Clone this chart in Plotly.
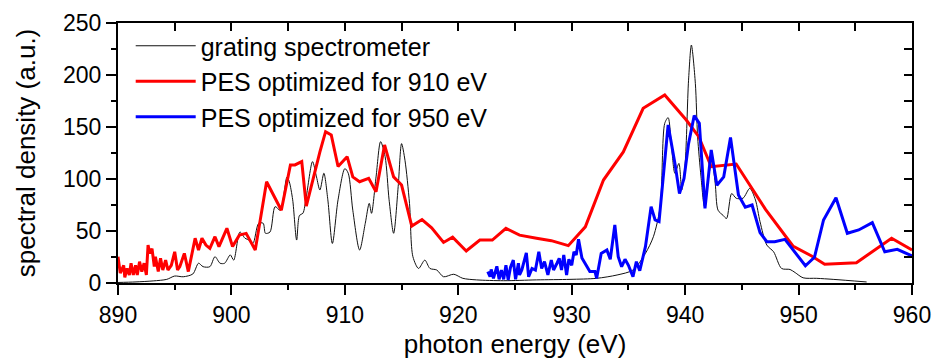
import plotly.graph_objects as go

# Grating spectrometer reference spectrum (thin black)
grating_e = [890.0, 891.5, 893.1, 894.3, 895.0, 895.75, 896.6, 897.1, 897.5, 898.1, 898.55,
             899.0, 899.4, 899.9, 900.2, 900.75, 901.2, 901.6, 901.9, 902.4, 902.8, 903.0,
             903.4, 903.85, 904.3, 904.9, 905.1, 905.4, 905.75, 906.0, 906.3, 906.6, 907.15,
             907.5, 907.8, 908.15, 908.5, 908.9, 909.4, 910.0, 910.3, 910.7, 911.3, 911.8,
             912.15, 912.35, 912.75, 913.15, 913.55, 913.9, 914.3, 914.7, 915.0, 915.3, 915.7,
             916.0, 916.5, 917.05, 917.5, 918.1, 918.7, 919.6, 920.4, 921.6, 924.0, 926.9,
             929.85, 932.2, 934.0, 935.4, 936.5, 937.2, 937.8, 938.2, 938.5, 938.8, 939.1,
             939.45, 939.7, 940.0, 940.3, 940.55, 940.9, 941.1, 941.4, 941.7, 942.0, 942.35,
             942.65, 942.9, 943.35, 943.65, 944.1, 944.5, 945.1, 945.7, 946.2, 946.6, 947.2,
             947.8, 948.5, 949.25, 949.7, 950.4, 951.6, 953.05, 956.0]
grating_val = [0.5, 1, 2, 3.5, 6.7, 6, 8.7, 19, 15.7, 15.7, 25.3,
               19, 19, 27, 22, 49, 43, 41, 38, 57.4, 57.4, 47.8,
               49, 73.4, 70, 102, 97.4, 80, 41.3, 65, 67, 83, 116.7,
               102, 89.4, 105.5, 80, 38, 80, 110, 105.5, 70, 31.7, 57.4,
               76.6, 67, 102, 135.9, 121.5, 80, 47.8, 92.6, 134, 118, 76.6,
               25.3, 14, 22, 14, 12.5, 6, 8.4, 4.5, 3, 2.2, 3,
               3.5, 4.5, 7.7, 12.5, 28.5, 44.5, 73.4, 153.5, 159, 131, 105.5,
               115, 89.4, 115, 195, 228.8, 192, 140.7, 102, 73.4, 96, 118,
               96, 70, 65, 62, 86, 81.5, 81.5, 91, 79.8, 59, 36.5,
               30, 14, 13, 10, 5, 4.5, 3.5, 1.0]

# Photoelectron spectrometer tuned for 910 eV (red)
pes910_e = [890.0, 890.2, 890.5, 890.6, 890.8, 891.0, 891.15, 891.35, 891.55, 891.7, 891.9,
            892.1, 892.3, 892.5, 892.65, 892.8, 893.0, 893.2, 893.3, 893.55, 893.75, 893.95,
            894.2, 894.4, 894.7, 895.0, 895.25, 895.45, 895.85, 896.2, 896.8, 897.1, 897.4,
            897.75, 898.1, 898.55, 898.9, 899.6, 900.1, 900.7, 901.3, 902.1, 903.1, 904.4,
            905.2, 905.6, 906.2, 906.6, 907.8, 908.3, 908.8, 909.4, 910.2, 910.7, 911.3,
            912.1, 912.75, 913.5, 914.3, 915.0, 915.9, 916.8, 917.65, 918.7, 919.5, 920.7,
            921.9, 923.0, 924.2, 925.4, 926.9, 928.2, 929.7, 931.2, 932.8, 934.55, 936.3,
            938.2, 940.1, 941.2, 942.3, 944.5, 947.1, 949.5, 951.15, 952.3, 955.1, 958.2, 960.0]
pes910_val = [25.3, 9.6, 17, 5.4, 14, 7.7, 19, 7.7, 17, 7.7, 20.5,
              11, 19, 7.7, 36.5, 28.5, 33, 15.7, 25.3, 11, 23.7, 12.5,
              22, 12.5, 17, 30, 12.5, 15.7, 28.5, 11, 43, 31.7, 43,
              36.5, 33.3, 44.5, 35, 52.6, 35, 46, 47.7, 31.7, 97.4, 70,
              113.5, 113.5, 116.7, 74, 126, 145.5, 142.3, 112, 121.5, 102, 97.4,
              100.6, 87.8, 132.7, 102, 94.2, 54.8, 61, 53, 39, 44, 30.8,
              41.3, 41.3, 52.6, 46, 43, 40.7, 35.9, 54, 99, 126, 168,
              180.8, 156.7, 140.7, 111.8, 114.4, 70.5, 35.6, 26, 18, 19.5, 43, 31.7]

# Photoelectron spectrometer tuned for 950 eV (blue)
pes950_e = [922.6, 922.8, 922.9, 923.1, 923.4, 923.6, 923.8, 924.0, 924.2, 924.4, 924.6,
            924.85, 925.05, 925.3, 925.4, 925.6, 926.0, 926.2, 926.5, 926.8, 927.1, 927.35,
            927.6, 927.9, 928.2, 928.4, 928.7, 928.9, 929.1, 929.3, 929.55, 929.75, 930.0,
            930.2, 930.4, 930.6, 930.9, 931.3, 931.6, 932.05, 932.2, 932.6, 933.1, 933.4,
            933.8, 934.1, 934.4, 934.7, 935.0, 935.4, 935.7, 936.0, 936.5, 937.0, 937.35,
            937.7, 938.1, 938.5, 939.1, 939.5, 939.9, 940.3, 940.8, 941.25, 941.75, 942.3,
            942.8, 943.4, 944.0, 944.7, 945.3, 945.9, 946.6, 947.2, 947.9, 948.8, 950.6,
            951.4, 952.2, 953.3, 954.3, 955.3, 956.5, 957.6, 958.7, 960.0]
pes950_val = [11, 6, 13, 4.5, 16, 3.5, 12.5, 3.5, 17, 3, 15,
              22, 3.5, 19, 7.7, 12.5, 29, 6, 14, 12.5, 30, 14,
              20.5, 7.7, 22, 12.5, 19, 23.7, 12.5, 27, 7.7, 22.8, 17,
              30, 27, 42, 24, 17, 11, 11, 4.5, 28.5, 31.7, 22.8,
              55.8, 25.3, 15.7, 22.8, 17, 6, 20.5, 11.8, 35, 73.4, 60.6,
              59, 104, 152, 115, 86, 100.6, 134, 161, 153.5, 71.8, 128,
              94, 102, 140, 84.6, 72.8, 75, 48.4, 39.7, 39.7, 42, 16.6,
              24.7, 60.6, 82, 47.8, 51, 58, 30, 32.4, 26]

x_ticks = [890, 900, 910, 920, 930, 940, 950, 960]
y_ticks = [0, 50, 100, 150, 200, 250]

FONT = "Liberation Sans, Arial, sans-serif"

fig = go.Figure()
fig.add_trace(go.Scatter(x=grating_e, y=grating_val, mode="lines",
                         name="grating spectrometer",
                         line=dict(color="#111111", width=1, shape="spline", smoothing=0.8)))
fig.add_trace(go.Scatter(x=pes910_e, y=pes910_val, mode="lines",
                         name="PES optimized for 910 eV",
                         line=dict(color="#ff0000", width=3)))
fig.add_trace(go.Scatter(x=pes950_e, y=pes950_val, mode="lines",
                         name="PES optimized for 950 eV",
                         line=dict(color="#0000ff", width=3)))
# empty trace so the top/right tick axes get drawn
fig.add_trace(go.Scatter(x=[None], y=[None], xaxis="x2", yaxis="y2",
                         showlegend=False, hoverinfo="skip"))

axis_common = dict(showgrid=False, zeroline=False, showline=True, automargin=False,
                   linecolor="black", linewidth=2, tickcolor="black", tickwidth=2)

fig.update_layout(
    width=933, height=359,
    margin=dict(l=118, r=21, t=23, b=76),
    paper_bgcolor="white", plot_bgcolor="white",
    font=dict(family=FONT, color="black", size=22),
    showlegend=True,
    legend=dict(x=0.016, y=1.0, xanchor="left", yanchor="top",
                bgcolor="rgba(0,0,0,0)", font=dict(size=25, family=FONT),
                itemwidth=60, tracegroupgap=0),
    xaxis=dict(range=[890, 960], tickvals=x_ticks, ticks="outside", ticklen=10,
               minor=dict(dtick=5, ticks="outside", ticklen=5, tickcolor="black", tickwidth=2),
               mirror=True,
               title=dict(text="photon energy (eV)", font=dict(size=26), standoff=10),
               tickfont=dict(size=23), **axis_common),
    yaxis=dict(range=[0, 250], tickvals=y_ticks, ticks="outside", ticklen=10,
               minor=dict(dtick=25, ticks="outside", ticklen=5, tickcolor="black", tickwidth=2),
               mirror=True,
               title=dict(text="spectral density (a.u.)", font=dict(size=26), standoff=20),
               tickfont=dict(size=23), **axis_common),
    xaxis2=dict(range=[890, 960], overlaying="x", side="top", anchor="y",
                dtick=5, tick0=890, ticks="inside", ticklen=8, showticklabels=False,
                showgrid=False, zeroline=False, tickcolor="black", tickwidth=2),
    yaxis2=dict(range=[0, 250], overlaying="y", side="right", anchor="x",
                dtick=25, tick0=0, ticks="inside", ticklen=8, showticklabels=False,
                showgrid=False, zeroline=False, tickcolor="black", tickwidth=2),
)

fig.write_html("out.html")
